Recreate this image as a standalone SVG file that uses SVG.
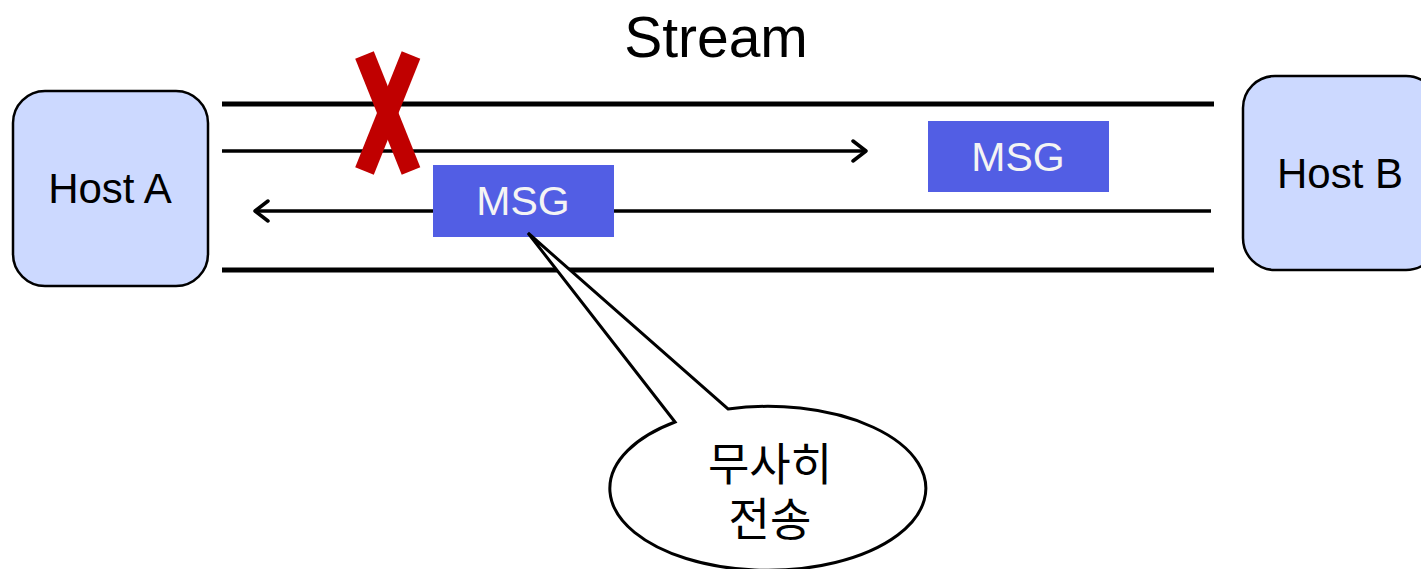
<svg xmlns="http://www.w3.org/2000/svg" width="1421" height="569" viewBox="0 0 1421 569">
<style>
.host{fill:#ccd9ff;stroke:#000;stroke-width:2.5}
.msg{fill:#525ee4}
.lbl{font-family:"Liberation Sans",Arial,sans-serif;font-size:42px;text-anchor:middle;fill:#000}
.msgt{font-family:"Liberation Sans",Arial,sans-serif;font-size:41px;text-anchor:middle;fill:#f4f4f4}
.rail{stroke:#000;stroke-width:5;fill:none}
.flow{stroke:#000;stroke-width:3.5;fill:none}
.x{stroke:#c00000;stroke-width:20;stroke-linecap:butt}
</style>
<defs>
<marker id="open" markerUnits="userSpaceOnUse" markerWidth="20" markerHeight="24" refX="15" refY="12" orient="auto">
<path d="M2,2 L15,12 L2,22" fill="none" stroke="#000" stroke-width="3.5" stroke-linecap="round" stroke-linejoin="round"/>
</marker>
</defs>
<rect width="1421" height="569" fill="#fff"/>
<text x="716" y="57" font-family="Liberation Sans, Arial, sans-serif" font-size="57" text-anchor="middle">Stream</text>
<g id="connectors">
<line class="rail" x1="222" y1="104" x2="1214" y2="104"/>
<line class="rail" x1="222" y1="270" x2="1214" y2="270"/>
<line class="flow" x1="222" y1="151" x2="866" y2="151" marker-end="url(#open)"/>
<line class="flow" x1="1211" y1="211" x2="255" y2="211" marker-end="url(#open)"/>
</g>
<g id="hostA">
<rect class="host" x="13" y="91" width="195" height="195" rx="32"/>
<text class="lbl" x="110" y="203">Host A</text>
</g>
<g id="hostB">
<rect class="host" x="1243" y="76" width="195" height="194" rx="32"/>
<text class="lbl" x="1340" y="188">Host B</text>
</g>
<g id="cross">
<line class="x" x1="364.5" y1="55" x2="411" y2="171"/>
<line class="x" x1="411" y1="55" x2="364.5" y2="171"/>
</g>
<g id="msg2">
<rect class="msg" x="928" y="121" width="181" height="71"/>
<text class="msgt" x="1018" y="171">MSG</text>
</g>
<g id="msg1">
<rect class="msg" x="433" y="165" width="181" height="72"/>
<text class="msgt" x="523" y="215">MSG</text>
</g>
<g id="callout">
<path d="M675,422 L528,233 L728,409 A158,82 0 1 1 675,422 Z" fill="#fff" stroke="#000" stroke-width="3" stroke-linejoin="miter"/>
<text font-family="Noto Sans CJK KR, sans-serif" font-size="45" text-anchor="middle"><tspan x="770" y="481">무사히</tspan><tspan x="770" y="536">전송</tspan></text>
</g>
</svg>
